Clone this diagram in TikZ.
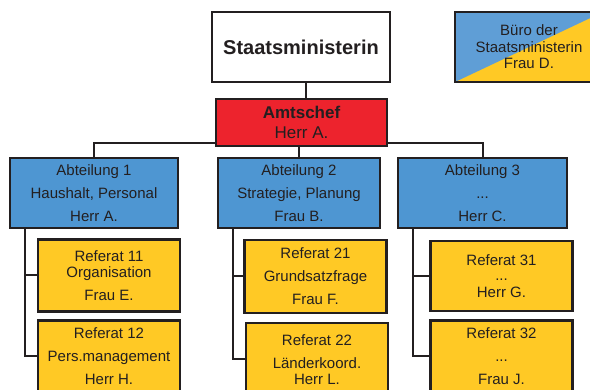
\documentclass[tikz,border=0pt]{standalone}
\usepackage{fontspec}
\setmainfont{Liberation Sans}
\usetikzlibrary{positioning}

\definecolor{inkgray}{RGB}{35,31,32}
\definecolor{abtblue}{RGB}{78,150,210}
\definecolor{bueroblue}{RGB}{95,158,214}
\definecolor{refyellow}{RGB}{255,201,37}
\definecolor{amtred}{RGB}{237,35,45}

\begin{document}
\begin{tikzpicture}[x=1pt, y=-1pt,
    box/.style={draw=inkgray, line width=2.2pt, inner sep=0pt, align=center,
      text=inkgray, font=\fontsize{15}{23}\selectfont},
    abtbox/.style={box, fill=abtblue, minimum height=70pt},
    refbox/.style={box, fill=refyellow, minimum width=142pt, minimum height=72pt},
    link/.style={draw=inkgray, line width=2pt}]
  \useasboundingbox (0,0) rectangle (590,390);
  \clip (0,0) rectangle (590,390);

  % Head
  \node[box, fill=white, minimum width=178pt, minimum height=70pt,
    font=\fontsize{20}{24}\selectfont\bfseries] (staat) at (301,47) {Staatsministerin};
  \node[box, fill=amtred, minimum width=171pt, minimum height=47pt,
    font=\fontsize{17}{20}\selectfont] (amt) at (301.5,122.5) {\textbf{Amtschef}\\Herr A.};

  % Office (split colours)
  \node[box, fill=refyellow, minimum width=148pt, minimum height=70pt,
    font=\fontsize{15}{16.5}\selectfont,
    path picture={\fill[bueroblue] (path picture bounding box.south west)
      -- (path picture bounding box.north west)
      -- (path picture bounding box.north east) -- cycle;}]
    (buero) at (529,47) {B\"uro der\\Staatsministerin\\Frau D.};

  % Departments
  \node[abtbox, minimum width=168pt] (abt1) at (94,193) {Abteilung 1\\Haushalt, Personal\\Herr A.};
  \node[abtbox, minimum width=162pt] (abt2) at (299,193) {Abteilung 2\\Strategie, Planung\\Frau B.};
  \node[abtbox, minimum width=169pt] (abt3) at (482.5,193) {Abteilung 3\\...\\Herr C.};

  % Units
  \node[refbox] (ref11) at (109,275.5) {Referat 11\\[-7pt]Organisation\\Frau E.};
  \node[refbox] (ref12) at (109,356.5) {Referat 12\\Pers.management\\Herr H.};
  \node[refbox, minimum height=73pt] (ref21) at (315.5,276.5) {Referat 21\\Grundsatzfrage\\Frau F.};
  \node[refbox, minimum height=73pt] (ref22) at (317,359.5) {Referat 22\\L\"anderkoord.\\[-7pt]Herr L.};
  \node[refbox, minimum height=70pt] (ref31) at (501.5,276) {Referat 31\\[-8pt]...\\[-6pt]Herr G.};
  \node[refbox] (ref32) at (501.5,356.5) {Referat 32\\...\\Frau J.};

  % Connectors
  \path[link] ([xshift=5pt]staat.south) -- ([xshift=5pt]staat.south |- amt.north);
  \path[link] ([yshift=4pt]amt.south west) -| (abt1.north);
  \path[link] ([yshift=4pt]amt.south east) -| (abt3.north);
  \path[link] (amt.south -| abt2.north) -- (abt2.north);
  \path[link] (ref11.west) -| ([xshift=16pt]abt1.south west) |- (ref12.west);
  \path[link] (ref21.west) -| ([xshift=16pt]abt2.south west) |- (ref22.west);
  \path[link] (ref31.west) -| ([xshift=16pt]abt3.south west) |- (ref32.west);
\end{tikzpicture}
\end{document}
